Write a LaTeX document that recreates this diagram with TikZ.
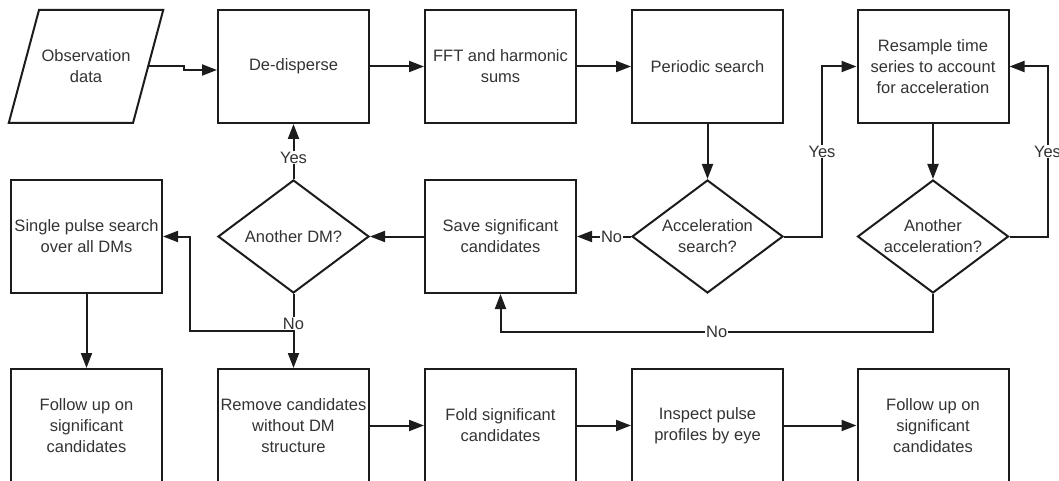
\documentclass[tikz,border=0pt]{standalone}
\usepackage{fontspec}
\setmainfont{Liberation Sans}
\definecolor{fcline}{RGB}{28,28,28}
\definecolor{fctext}{RGB}{51,51,51}
\usetikzlibrary{arrows.meta,positioning,shapes.geometric,calc}
\newcommand{\fcfont}{\fontsize{16.5}{21}\selectfont}
\tikzset{
  fcbox/.style={draw=fcline,line width=2pt,minimum width=151pt,minimum height=113pt,
    align=center,text=fctext,font=\fcfont,inner sep=2pt},
  fcdecision/.style={fcbox,diamond,aspect=1.336,inner sep=0pt},
  fcdata/.style={fcbox,trapezium,trapezium left angle=75,trapezium right angle=105,
    inner xsep=1pt,inner ysep=38pt,minimum width=0pt},
  fcflow/.style={draw=fcline,line width=2pt,-{Triangle[length=15pt,width=11pt]}},
  fclabel/.style={fill=white,text=fctext,font=\fcfont,inner sep=1pt}
}

\begin{document}
\begin{tikzpicture}[x=1pt,y=-1pt]
  \useasboundingbox (0,0) rectangle (1059,481);

  % top row
  \node[fcdata] (obs) at (86,66.5) {Observation\\data};
  \node[fcbox] (dd) at (293.5,66.5) {De-disperse};
  \node[fcbox] (fft) at (500.5,66.5) {FFT and harmonic\\sums};
  \node[fcbox] (ps) at (707.5,66.5) {Periodic search};
  \node[fcbox] (rs) at (933,66.5) {Resample time\\series to account\\for acceleration};

  % middle row
  \node[fcbox] (sp) at (86.5,236.5) {Single pulse search\\over all DMs};
  \node[fcdecision] (adm) at (293.5,236.5) {Another DM?};
  \node[fcbox] (save) at (500.5,236.5) {Save significant\\candidates};
  \node[fcdecision] (acc) at (707.5,236.5) {Acceleration\\search?};
  \node[fcdecision] (aacc) at (933,236.5) {Another\\acceleration?};

  % bottom row
  \node[fcbox] (fu1) at (86.5,425.5) {Follow up on\\significant\\candidates};
  \node[fcbox] (rm) at (293.5,425.5) {Remove candidates\\without DM\\structure};
  \node[fcbox] (fold) at (500.5,425.5) {Fold significant\\candidates};
  \node[fcbox] (insp) at (707.5,425.5) {Inspect pulse\\profiles by eye};
  \node[fcbox] (fu2) at (933,425.5) {Follow up on\\significant\\candidates};

  % connectors
  \draw[fcflow] (obs.east) -- ++(35,0) |- ([yshift=-3.5pt]dd.west);
  \draw[fcflow] (dd.east) -- (fft.west);
  \draw[fcflow] (fft.east) -- (ps.west);
  \draw[fcflow] (ps.south) -- (acc.north);
  \draw[fcflow] (acc.east) -- ++(38,0) |- node[fclabel,pos=0.25] {Yes} (rs.west);
  \draw[fcflow] (rs.south) -- (aacc.north);
  \draw[fcflow] (aacc.east) -- ++(38,0) |- node[fclabel,pos=0.25] {Yes} (rs.east);
  \draw[fcflow] (aacc.south) -- ++(0,38) -| node[fclabel,pos=0.25] {No} (save.south);
  \draw[fcflow] (acc.west) -- node[fclabel,pos=0.36] {No} (save.east);
  \draw[fcflow] (save.west) -- (adm.east);
  \draw[fcflow] (adm.north) -- node[fclabel,pos=0.39] {Yes} (dd.south);
  \coordinate (dmno) at ($(adm.south)!0.5!(rm.north)$);
  \draw[fcflow] (dmno) -| ($(sp.east)+(27,0)$) -- (sp.east);
  \draw[fcflow] (adm.south) -- node[fclabel,pos=0.4] {No} (rm.north);
  \draw[fcflow] (sp.south) -- (fu1.north);
  \draw[fcflow] (rm.east) -- (fold.west);
  \draw[fcflow] (fold.east) -- (insp.west);
  \draw[fcflow] (insp.east) -- (fu2.west);
\end{tikzpicture}
\end{document}
